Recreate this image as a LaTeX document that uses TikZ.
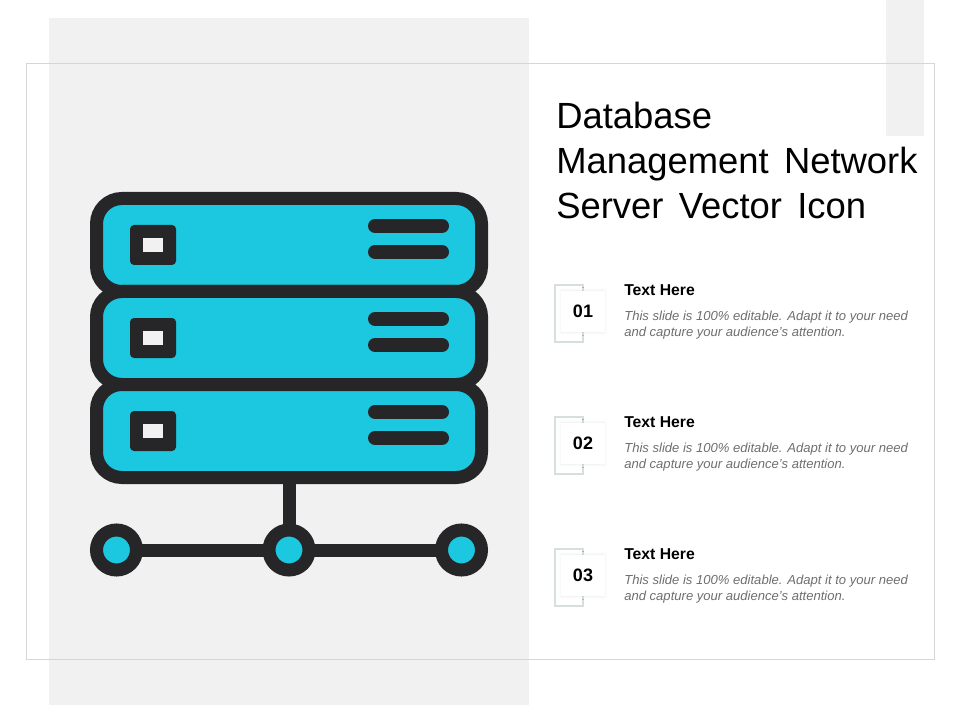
\documentclass[tikz,border=0pt]{standalone}
\usepackage{fontspec}
\setmainfont{Liberation Sans}
\newcommand{\titlefont}{\fontsize{27.3}{33.75}\selectfont\spaceskip=11.5pt\relax}
\definecolor{panel}{RGB}{241, 241, 241}
\definecolor{framing}{RGB}{214, 214, 214}
\definecolor{dark}{RGB}{38, 38, 40}
\definecolor{cyan}{RGB}{27, 200, 224}
\definecolor{tabline}{RGB}{214, 222, 222}
\definecolor{bodygray}{RGB}{110, 110, 110}
\usetikzlibrary{positioning, shadows.blur}
\tikzset{
    rack/.style={rectangle, rounded corners=19pt, minimum width=288.75pt, minimum height=69.75pt, draw=dark, fill=cyan, line width=9.75pt, outer sep=0pt},
    led/.style={rectangle, rounded corners=3pt, minimum width=34.5pt, minimum height=30pt, fill=dark},
    lamp/.style={rectangle, minimum width=15pt, minimum height=10.5pt, fill=panel},
    slot/.style={dark, line width=10.5pt, line cap=round},
    wire/.style={dark, line width=9.75pt},
    port/.style={circle, minimum size=30pt, draw=dark, fill=cyan, line width=9.75pt, outer sep=0pt},
    backtab/.style={rectangle, minimum width=21pt, minimum height=43pt, draw=tabline, line width=1.9pt},
    numtab/.style={rectangle, minimum width=32.5pt, minimum height=31pt, fill=white, blur shadow={shadow blur steps=8, shadow xshift=0pt, shadow yshift=0pt, shadow blur radius=2.5pt, shadow opacity=8}, font=\fontsize{13.5}{16}\selectfont\bfseries},
    heading/.style={anchor=north west, inner sep=0pt, font=\fontsize{11.8}{14}\selectfont\bfseries},
    bodytext/.style={anchor=north west, inner sep=0pt, align=left, text=bodygray, font=\fontsize{9.8}{12}\selectfont\itshape}
}
\begin{document}
\begin{tikzpicture}[x=0.75pt, y=-0.75pt]
    \useasboundingbox (0, 0) rectangle (960, 720);
    % Page furniture
    \fill[panel] (49, 18) rectangle (529, 705);
    \fill[panel] (886, 0) rectangle (924, 136);
    \draw[framing, line width=0.7pt] (26.5, 63.5) rectangle (934.5, 659);

    % Title
    \node[anchor=north west, inner sep=0pt, align=left, font=\titlefont] (title) at (556, 102) {Database\\Management Network\\Server Vector Icon};

    % Server units
    \foreach \name/\y in {a/245, b/338, c/431} {
        \node[rack] (rack\name) at (289, \y) {};
        \node[led] (led\name) at (153, \y) {};
        \node[lamp] (lamp\name) at (153, \y) {};
        \coordinate (slotl\name) at (375, \y-19);
        \coordinate (slotr\name) at (442, \y-19);
        \coordinate (slotm\name) at (375, \y+7);
        \coordinate (slotn\name) at (442, \y+7);
        \draw[slot] (slotl\name) -- (slotr\name);
        \draw[slot] (slotm\name) -- (slotn\name);
    }

    % Ports
    \node[port] (portl) at (116.5, 550) {};
    \node[port] (portm) at (289, 550) {};
    \node[port] (portr) at (461.5, 550) {};
    \draw[wire] (rackc.south) -- (portm.north);
    \draw[wire] (portl) -- (portm);
    \draw[wire] (portm) -- (portr);

    % Text items
    \foreach \num/\y in {01/311, 02/443, 03/575} {
        \node[backtab] (back\num) at (569, \y+2.5) {};
        \node[numtab] (tab\num) at (583, \y+0.5) {\num};
        \node[heading] (head\num) at (624, \y-27) {Text Here};
        \node[bodytext] (body\num) at (624, \y) {This slide is 100\% editable. Adapt it to your need\\and capture your audience's attention.};
    }
\end{tikzpicture}
\end{document}
